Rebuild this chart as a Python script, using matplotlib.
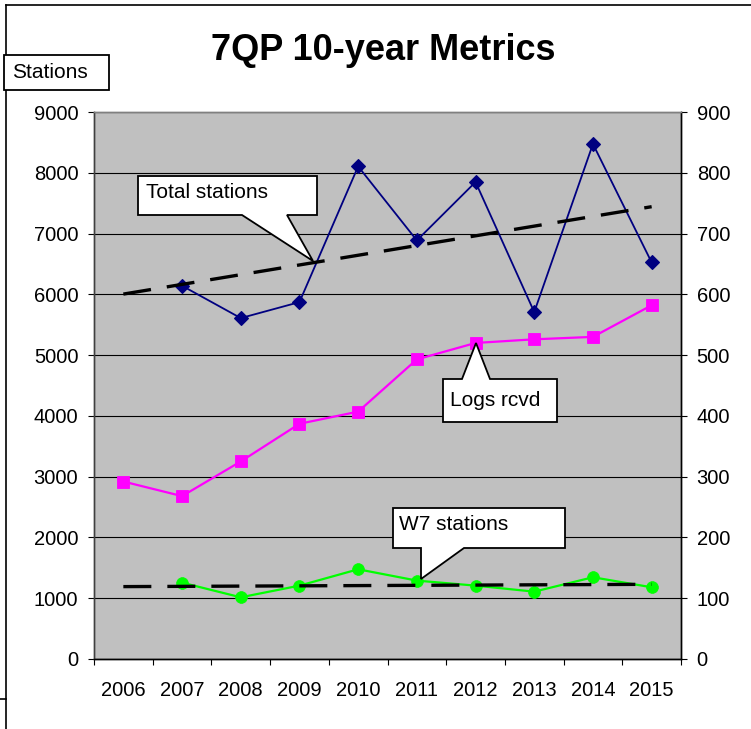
import numpy as np
import matplotlib
matplotlib.use("Agg")
import matplotlib.pyplot as plt
from matplotlib.patches import Polygon
from matplotlib.lines import Line2D
from matplotlib.ticker import FixedLocator

plt.rcParams['font.family'] = ['Liberation Sans', 'DejaVu Sans']

# ---------------- data ----------------
years = ['2006', '2007', '2008', '2009', '2010', '2011', '2012', '2013', '2014', '2015']
total_stations = [np.nan, 6141, 5609, 5872, 8105, 6887, 7848, 5708, 8474, 6525]
w7_stations = [np.nan, 1256, 1015, 1207, 1476, 1290, 1207, 1108, 1345, 1180]
logs_rcvd = [292, 268, 325, 387, 407, 493, 520, 526, 530, 582]
trend_total = [6004, 7442]   # linear trend at 2006 and 2015
trend_w7 = [1191, 1229]      # linear trend at 2006 and 2015
left_ticks = [0, 1000, 2000, 3000, 4000, 5000, 6000, 7000, 8000, 9000]
right_ticks = [0, 100, 200, 300, 400, 500, 600, 700, 800, 900]

W, H = 751, 729
fig = plt.figure(figsize=(W / 100, H / 100), dpi=100)
fig.patch.set_facecolor('white')


def px(x, y):
    return (x / W, 1 - y / H)


x0, y0 = px(94, 659)
x1, y1 = px(681, 112)
ax = fig.add_axes([x0, y0, x1 - x0, y1 - y0])
ax.set_facecolor('#C0C0C0')
ax.set_axisbelow(True)

xpos = np.arange(len(years))
ax.set_xlim(-0.5, len(years) - 0.5)
ax.set_ylim(left_ticks[0], left_ticks[-1])
ax.set_yticks(left_ticks)
ax.yaxis.grid(True, color='black', linewidth=0.8)

# series on left axis
ax.plot(xpos, total_stations, color='#000080', linewidth=1.3, marker='D',
        markersize=7.2, markerfacecolor='#000080', markeredgecolor='#000080',
        markeredgewidth=0.8, zorder=3)
ax.plot(xpos, w7_stations, color='#00FF00', linewidth=1.6, marker='o',
        markersize=8.5, markerfacecolor='#00FF00', markeredgecolor='#00FF00',
        markeredgewidth=0.5, zorder=3)

# trend lines
tx = [xpos[0], xpos[-1]]
ax.plot(tx, trend_total, color='black', linewidth=2.4, linestyle=(0, (8.4, 4.8)),
        dash_capstyle='butt', zorder=5)
ax.plot(tx, trend_w7, color='black', linewidth=2.4, linestyle=(0, (8.4, 4.8)),
        dash_capstyle='butt', zorder=5)

# right axis
ax2 = ax.twinx()
ax2.set_ylim(right_ticks[0], right_ticks[-1])
ax2.set_yticks(right_ticks)
ax2.plot(xpos, logs_rcvd, color='#FF00FF', linewidth=1.6, marker='s',
         markersize=8.4, markerfacecolor='#FF00FF', markeredgecolor='#FF00FF',
         markeredgewidth=0.6, zorder=3)

# x axis ticks: labels at centres, tick marks at boundaries
ax.set_xticks(xpos)
ax.set_xticklabels(years)
ax.xaxis.set_minor_locator(FixedLocator(np.arange(-0.5, len(years), 1.0)))
ax.tick_params(axis='x', which='major', length=0, pad=16, labelsize=14.5)
ax.tick_params(axis='x', which='minor', length=4.3, width=0.8, color='black')
ax.tick_params(axis='y', which='major', length=4.3, width=0.8, pad=7,
               labelsize=14.5, direction='out')
ax2.tick_params(axis='y', which='major', length=4.3, width=0.8, pad=7,
                labelsize=14.5, direction='out')

for a in (ax, ax2):
    for s in a.spines.values():
        s.set_linewidth(1.0)
    a.spines['top'].set_color('#808080')
    a.spines['left'].set_color('#404040')
    a.spines['bottom'].set_color('black')
    a.spines['right'].set_color('black')

# title
fig.text(*px(383, 50), '7QP 10-year Metrics', ha='center', va='center',
         fontsize=26, fontweight='bold')

# outer frame pieces
fig.add_artist(Line2D([6 / W, 1.0], [1 - 5 / H, 1 - 5 / H], transform=fig.transFigure,
                      color='black', linewidth=1.2))
fig.add_artist(Line2D([6 / W, 6 / W], [1 - 5 / H, 0.0], transform=fig.transFigure,
                      color='black', linewidth=1.2))
fig.add_artist(Line2D([0, 6 / W], [1 - 699 / H, 1 - 699 / H], transform=fig.transFigure,
                      color='black', linewidth=1.2))


def callout(verts, text, tx, ty):
    poly = Polygon([px(x, y) for x, y in verts], closed=True, transform=fig.transFigure,
                   facecolor='white', edgecolor='black', linewidth=1.3, zorder=10)
    fig.add_artist(poly)
    fig.text(*px(tx, ty), text, ha='left', va='center', fontsize=15, zorder=11)


# "Stations" box
callout([(4, 55), (109, 55), (109, 90), (4, 90)], 'Stations', 12, 72)
# Total stations callout
callout([(138, 176), (317, 176), (317, 215), (287, 215), (313, 261), (242, 215), (138, 215)],
        'Total stations', 146, 192)
# Logs rcvd callout
callout([(443, 379), (462, 379), (476, 343), (490, 379), (557, 379), (557, 422), (443, 422)],
        'Logs rcvd', 450, 400)
# W7 stations callout
callout([(393, 508), (565, 508), (565, 548), (464, 548), (421, 579), (421, 548), (393, 548)],
        'W7 stations', 399, 524)

fig.savefig('out.png', dpi=100, facecolor='white')
